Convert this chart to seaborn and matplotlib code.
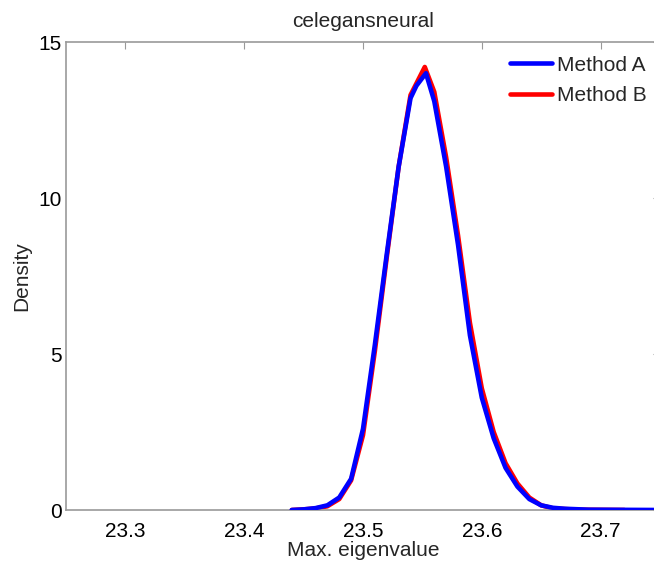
import numpy as np
import pandas as pd
import matplotlib
matplotlib.use("Agg")
import matplotlib.pyplot as plt
import seaborn as sns

title = "celegansneural"
xlabel = "Max. eigenvalue"
ylabel = "Density"

a_x = [23.44, 23.45, 23.46, 23.47, 23.48, 23.49, 23.50, 23.51, 23.52, 23.53, 23.54, 23.545,
       23.553, 23.56, 23.57, 23.58, 23.59, 23.60, 23.61, 23.62, 23.63, 23.64, 23.65, 23.66,
       23.67, 23.69, 23.75]
a_y = [0.0, 0.02, 0.06, 0.15, 0.4, 1.0, 2.6, 5.3, 8.2, 11.0, 13.2, 13.6,
       14.0, 13.1, 11.0, 8.5, 5.6, 3.6, 2.3, 1.35, 0.75, 0.35, 0.15, 0.07,
       0.04, 0.01, 0.0]

b_x = [23.44, 23.45, 23.46, 23.47, 23.48, 23.49, 23.50, 23.51, 23.52, 23.53, 23.54, 23.552,
       23.56, 23.57, 23.58, 23.59, 23.60, 23.61, 23.62, 23.63, 23.64, 23.65, 23.66, 23.68, 23.72]
b_y = [0.0, 0.02, 0.05, 0.12, 0.35, 0.95, 2.4, 5.1, 8.1, 11.0, 13.3, 14.2,
       13.4, 11.3, 8.8, 6.0, 3.9, 2.5, 1.5, 0.85, 0.4, 0.15, 0.05, 0.01, 0.0]

x_ticks = [23.3, 23.4, 23.5, 23.6, 23.7]
y_ticks = [0, 5, 10, 15]

sns.set_theme(style="white")
plt.rcParams['font.family'] = ['Liberation Sans', 'DejaVu Sans']

dfa = pd.DataFrame({"x": a_x, "y": a_y})
dfb = pd.DataFrame({"x": b_x, "y": b_y})

FS = 15

fig = plt.figure(figsize=(6.54, 5.69), dpi=100)
ax = fig.add_axes([66/654, 59/569, 594/654, 468/569])

sns.lineplot(data=dfa, x="x", y="y", ax=ax, color="#0000ff", linewidth=3.3,
             label="Method A", zorder=3, sort=False)
sns.lineplot(data=dfb, x="x", y="y", ax=ax, color="#ff0000", linewidth=3.3,
             label="Method B", zorder=2, sort=False)

ax.set_xlim(23.25, 23.75)
ax.set_ylim(0, 15)
ax.set_xticks(x_ticks)
ax.set_xticklabels([f"{v:.1f}" for v in x_ticks])
ax.set_yticks(y_ticks)
ax.tick_params(direction="in", top=True, right=True, length=5, width=0.8,
               color="#999999", labelsize=FS, labelcolor="black")
ax.tick_params(axis="x", pad=8.5)
ax.tick_params(axis="y", pad=3)
for s in ax.spines.values():
    s.set_color("#999999")
    s.set_linewidth(1.2)

ax.set_xlabel(xlabel, fontsize=FS, labelpad=0)
ax.set_ylabel(ylabel, fontsize=FS, labelpad=5)
ax.set_title(title, fontsize=FS, pad=10.5)

leg = ax.legend(loc="upper right", frameon=False, fontsize=FS, handlelength=2.0,
                handletextpad=0.25, borderaxespad=0.25, borderpad=0.4, labelspacing=0.55,
                bbox_to_anchor=(1.0, 1.0))

fig.savefig("out.png", dpi=100)
